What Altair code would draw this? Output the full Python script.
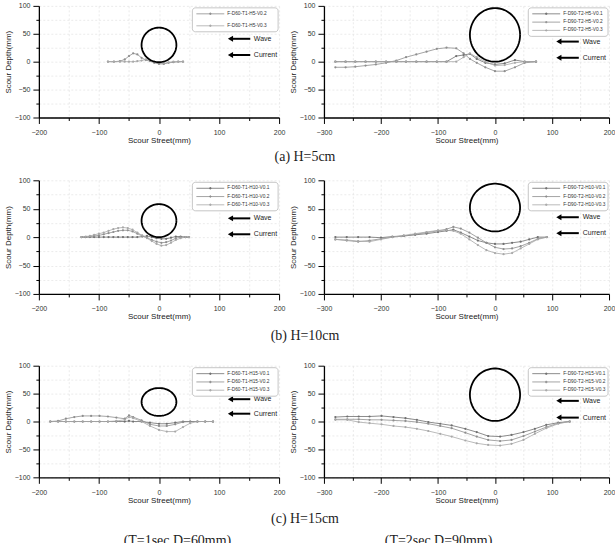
import altair as alt
import pandas as pd

# ---------------------------------------------------------------- text
X_TITLE = "Scour Street(mm)"
Y_TITLE = "Scour Depth(mm)"
ROW_CAPTIONS = ["(a) H=5cm", "(b) H=10cm", "(c) H=15cm"]
COLUMN_CAPTIONS = ["(T=1sec D=60mm)", "(T=2sec D=90mm)"]

# ---------------------------------------------------------------- profiles
# (a) H=5cm, D=60mm, T=1sec
a_l_x = [-85, -75, -65, -57, -50, -43, -36, -29, -22, -15, -8, 0, 8, 16, 24, 32, 40]
a_l_v02 = [0, 0, 1, 4, 10, 15, 13, 7, 3, 1, -2, -4, -4, -2, -1, 0, 0]
a_l_v03 = [0, 0, 0, 0, 0, 0, 1, 2, 4, 3, 0, -3, -3, -1, 0, 0, 0]

# (a) H=5cm, D=90mm, T=2sec
a_r_x = [-280, -262, -245, -227, -209, -191, -173, -156, -138, -120, -102,
         -85, -68, -55, -44, -32, -17, 0, 17, 35, 52, 72]
a_r_v01 = [0, 0, 0, 0, 0, 0, 0, 0, 0, 0, 0, 0, 10, 12, 14, 5, -2, -5, -3, 3, 0, 0]
a_r_v02 = [-10, -10, -9, -7, -5, -2, 2, 8, 13, 18, 23, 25, 24, 15, 5, -2, -10,
           -17, -17, -10, -2, 0]
a_r_v03 = [0, 0, 0, 0, 0, 0, 0, 0, 0, 0, 0, 0, 0, 8, 15, 8, 0, -7, -6, -2, 0, 0]

# (b) H=10cm, D=60mm, T=1sec
b_l_x = [-129, -122, -115, -108, -100, -92, -84, -76, -68, -60, -52, -44, -36,
         -28, -20, -12, -4, 4, 12, 20, 28, 36, 44, 50]
b_l_v01 = [0, 0, 0, 0, 0, 0, 0, 0, 0, 0, 0, 0, 0, 1, 2, 0, -2, -3, -3, -1, 1, 1, 0, 0]
b_l_v02 = [0, 0, 1, 2, 3, 5, 7, 9, 11, 12, 12, 10, 6, 2, -1, -5, -8, -10, -9, -6,
           -2, 0, 0, 0]
b_l_v03 = [0, 1, 2, 4, 6, 8, 11, 14, 16, 17, 16, 13, 8, 3, -2, -7, -12, -15, -14,
           -10, -5, -2, 0, 0]

# (b) H=10cm, D=90mm, T=2sec
b_r_x = [-280, -260, -240, -220, -200, -180, -160, -140, -120, -100, -85, -73,
         -60, -45, -30, -15, 0, 15, 30, 45, 60, 75, 91]
b_r_v01 = [0, 0, 0, 0, -1, 1, 2, 4, 6, 9, 11, 13, 8, 1, -6, -10, -12, -12, -10,
           -8, -4, 0, 0]
b_r_v02 = [-4, -6, -8, -6, -3, 0, 2, 5, 8, 11, 14, 18, 15, 8, -1, -10, -18, -21,
           -20, -16, -10, -3, 0]
b_r_v03 = [-4, -5, -7, -8, -4, 0, 3, 6, 9, 12, 12, 11, 6, -4, -14, -23, -28, -30,
           -28, -20, -12, -4, 0]

# (c) H=15cm, D=60mm, T=1sec
c_l_x = [-181, -168, -155, -141, -127, -113, -99, -85, -71, -57, -50, -43, -29,
         -15, 0, 13, 27, 40, 52, 64, 77, 90]
c_l_v01 = [0, 0, 0, 0, 0, 0, 0, 0, 0, 0, 1, 0, 0, -2, -4, -4, -2, 0, 0, 0, 0, 0]
c_l_v02 = [0, 1, 5, 8, 10, 10, 10, 9, 7, 5, 11, 8, 2, -5, -8, -8, -5, -1, 0, 0, 0, 0]
c_l_v03 = [0, 0, 0, 0, 0, 0, 0, 0, 1, 3, 8, 6, 0, -8, -15, -18, -18, -10, -3, 0, 0, 0]

# (c) H=15cm, D=90mm, T=2sec
c_r_x = [-280, -259, -239, -220, -199, -178, -157, -137, -117, -96, -76, -52,
         -32, -12, 9, 29, 50, 70, 90, 111, 131]
c_r_v01 = [8, 9, 9, 9, 10, 8, 6, 3, -1, -4, -7, -13, -19, -26, -27, -24, -19,
           -13, -6, -2, 0]
c_r_v02 = [4, 4, 4, 3, 3, 2, 1, -1, -4, -8, -12, -20, -27, -33, -35, -33, -26,
           -18, -10, -3, 0]
c_r_v03 = [3, 3, -1, -3, -5, -8, -10, -13, -17, -22, -27, -34, -39, -42, -43,
           -40, -33, -22, -12, -4, 0]

# ---------------------------------------------------------------- styling
GREYS = ["#6f6f6f", "#8e8e8e", "#a8a8a8"]
FONT = "Liberation Sans"
CAPTION_FONT = "Liberation Serif"
PLOT_LEFT = 40          # page x of the first panel's plot area
LEFT_W, RIGHT_W = 241, 286


def legend_box(labels, colors, width, box_w):
    """Framed key in the top-right corner of a panel (pixel units)."""
    n = len(labels)
    step = 12 if n == 2 else 8.3
    bx1 = width - 1
    bx0 = bx1 - box_w
    by0 = 2
    first = by0 + 6
    by1 = first + (n - 1) * step + 6
    one = pd.DataFrame({"k": [0]})
    parts = [alt.Chart(one).mark_rect(
        fill="white", stroke="#b8b8b8", strokeWidth=0.8, cornerRadius=3
    ).encode(x=alt.value(bx0), x2=alt.value(bx1), y=alt.value(by0), y2=alt.value(by1))]
    for i, (lab, col) in enumerate(zip(labels, colors)):
        yy = first + i * step
        parts.append(alt.Chart(one).mark_rule(color=col, strokeWidth=0.8).encode(
            x=alt.value(bx0 + 4), x2=alt.value(bx0 + 32), y=alt.value(yy)))
        parts.append(alt.Chart(one).mark_point(
            shape="cross", filled=True, color=col, size=6, opacity=1
        ).encode(x=alt.value(bx0 + 18), y=alt.value(yy)))
        parts.append(alt.Chart(pd.DataFrame({"t": [lab]})).mark_text(
            align="left", baseline="middle", font=FONT, fontSize=4.8, color="#333"
        ).encode(x=alt.value(bx0 + 35), y=alt.value(yy), text="t:N"))
    return parts


def panel(xs, series, labels, x_domain, pile, arrows, width, height, box_w):
    rows = []
    for lab, ys in zip(labels, series):
        for xv, yv in zip(xs, ys):
            rows.append({"x": xv, "y": yv, "s": lab})
    df = pd.DataFrame(rows)
    colors = GREYS[-len(labels):] if len(labels) < 3 else GREYS

    xs_scale = alt.Scale(domain=x_domain, nice=False, zero=False)
    ys_scale = alt.Scale(domain=[-100, 100], nice=False, zero=False)
    major_x = {"condition": {"test": "datum.value % 100 === 0", "value": 6}, "value": 3}
    major_y = {"condition": {"test": "datum.value % 50 === 0", "value": 6}, "value": 3}
    x_axis = alt.Axis(
        values=list(range(x_domain[0], x_domain[1] + 1, 50)),
        labelExpr="datum.value % 100 === 0 ? datum.label : ''",
        title=X_TITLE, tickSize=major_x, labelPadding=5, titlePadding=1,
        labelFlush=False, labelOverlap=False,
    )
    y_axis = alt.Axis(
        values=list(range(-100, 101, 25)),
        labelExpr="datum.value % 50 === 0 ? datum.label : ''",
        title=Y_TITLE, tickSize=major_y, labelPadding=3, titlePadding=2,
        labelFlush=False, labelOverlap=False,
    )
    X = alt.X("x:Q", scale=xs_scale, axis=x_axis)
    Y = alt.Y("y:Q", scale=ys_scale, axis=y_axis)

    profiles = alt.Chart(df).mark_line(
        strokeWidth=0.8, point=alt.OverlayMarkDef(filled=True, size=5)
    ).encode(
        x=X, y=Y,
        color=alt.Color("s:N", scale=alt.Scale(domain=labels, range=colors), legend=None),
    )

    cy, rx, ry = pile
    outline = alt.Chart(alt.sequence(0, 361, 4, as_="deg")).transform_calculate(
        x=f"{rx} * cos(datum.deg * PI / 180)",
        y=f"{cy} + {ry} * sin(datum.deg * PI / 180)",
    ).mark_line(color="black", strokeWidth=1.8).encode(x=X, y=Y, order="deg:Q")

    x0, x1, xt, wave_y, cur_y = arrows
    adf = pd.DataFrame({"x": [x0, x0], "x2": [x1, x1], "xt": [xt, xt],
                        "y": [wave_y, cur_y], "label": ["Wave", "Current"]})
    shaft = alt.Chart(adf).mark_rule(color="black", strokeWidth=2).encode(
        x=X, x2="x2:Q", y=Y)
    head = alt.Chart(adf).mark_point(
        shape="triangle-left", filled=True, color="black", opacity=1, size=36
    ).encode(x=X, y=Y)
    words = alt.Chart(adf).mark_text(
        align="left", baseline="middle", font=FONT, fontSize=7, color="#222"
    ).encode(x=alt.X("xt:Q", scale=xs_scale, axis=x_axis), y=Y, text="label:N")

    key = legend_box(labels, colors, width, box_w)
    return alt.layer(profiles, outline, shaft, head, words, *key).properties(
        width=width, height=height)


def labels_for(d, t, h, vs):
    return [f"F-D{d}-T{t}-H{h}-V{v}" for v in vs]


left_arrows = [(119, 152, 158, 41, 12), (119, 152, 158, 33, 5), (119, 152, 158, 40, 14)]
right_arrows = [(112, 147, 154, 36, 7), (112, 147, 154, 35, 7), (112, 147, 154, 37, 7)]

rows_spec = [
    dict(h=112, left=(a_l_x, [a_l_v02, a_l_v03], labels_for(60, 1, 5, ["0.2", "0.3"]), (30, 29, 31)),
         right=(a_r_x, [a_r_v01, a_r_v02, a_r_v03], labels_for(90, 2, 5, ["0.1", "0.2", "0.3"]), (48, 44, 48))),
    dict(h=114, left=(b_l_x, [b_l_v01, b_l_v02, b_l_v03], labels_for(60, 1, 10, ["0.1", "0.2", "0.3"]), (29, 29, 29)),
         right=(b_r_x, [b_r_v01, b_r_v02, b_r_v03], labels_for(90, 2, 10, ["0.1", "0.2", "0.3"]), (52, 44, 42))),
    dict(h=112, left=(c_l_x, [c_l_v01, c_l_v02, c_l_v03], labels_for(60, 1, 15, ["0.1", "0.2", "0.3"]), (35, 29, 25)),
         right=(c_r_x, [c_r_v01, c_r_v02, c_r_v03], labels_for(90, 2, 15, ["0.1", "0.2", "0.3"]), (48, 44, 47))),
]


def caption(text, x, y, size=14):
    return alt.Chart(pd.DataFrame({"t": [text]})).mark_text(
        font=CAPTION_FONT, fontSize=size, align="center", baseline="middle",
        color="#222", clip=True,
    ).encode(text="t:N", x=alt.value(x - PLOT_LEFT), y=alt.value(y))


def caption_block(parts, height):
    return alt.layer(*parts).properties(width=560, height=height)


blocks = []
caption_heights = [32, 41]
caption_y = [13, 15, 15]
for i, spec in enumerate(rows_spec):
    lx, lser, llab, lpile = spec["left"]
    rx_, rser, rlab, rpile = spec["right"]
    left = panel(lx, lser, llab, [-200, 200], lpile, left_arrows[i], LEFT_W, spec["h"], 86)
    right = panel(rx_, rser, rlab, [-300, 200], rpile, right_arrows[i], RIGHT_W, spec["h"], 80)
    row = alt.hconcat(left, right, spacing=4).resolve_scale(
        x="independent", y="independent", color="independent")
    blocks.append(row)
    if i < 2:
        blocks.append(caption_block([caption(ROW_CAPTIONS[i], 307, caption_y[i])],
                                    caption_heights[i]))
    else:
        blocks.append(caption_block([
            caption(ROW_CAPTIONS[i], 307, caption_y[i]),
            caption(COLUMN_CAPTIONS[0], 179, 37),
            caption(COLUMN_CAPTIONS[1], 441, 37),
        ], 40))

chart = alt.vconcat(*blocks, spacing=0).resolve_scale(
    x="independent", y="independent", color="independent"
).properties(
    padding={"left": 4, "top": 1, "right": 0, "bottom": 0}
).configure_view(stroke=None).configure_axis(
    domainColor="black", domainWidth=1.3, tickColor="black", tickWidth=1,
    labelFont=FONT, labelFontSize=7, labelColor="#333",
    titleFont=FONT, titleFontSize=8, titleFontWeight="normal", titleColor="#222",
    gridColor="#dedede", gridDash=[2, 2], gridWidth=0.6,
)

chart.save("out.html", embed_options={"renderer": "svg", "actions": False})
